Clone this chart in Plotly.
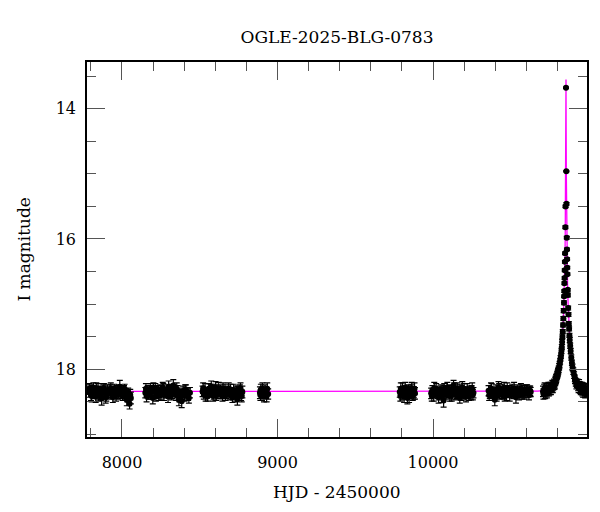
import plotly.graph_objects as go

TITLE = "OGLE-2025-BLG-0783"
X_LABEL = "HJD - 2450000"
Y_LABEL = "I magnitude"

# ---- photometry, one season per list (HJD-2450000, I mag, error) ----
s1_t = [7786, 7794, 7801, 7809, 7816, 7824, 7831, 7839, 7846, 7854, 7861, 7869, 7877, 7884, 7892, 7899, 7907,
        7916, 7924, 7933, 7941, 7950, 7958, 7967, 7976, 7986, 7995, 8004, 8013, 8022, 8031, 8040, 8049, 8057,
        7790, 7805, 7820, 7835, 7850, 7865, 7880, 7895, 7912, 7928, 7945, 7962, 7980, 7999, 8017, 8035, 8053]
s1_m = [18.35, 18.31, 18.39, 18.33, 18.28, 18.37, 18.42, 18.34, 18.30, 18.38, 18.33, 18.45, 18.36, 18.29, 18.34,
        18.40, 18.32, 18.37, 18.31, 18.35, 18.43, 18.30, 18.36, 18.33, 18.39, 18.27, 18.35, 18.41, 18.34, 18.38,
        18.47, 18.36, 18.53, 18.44,
        18.30, 18.41, 18.33, 18.29, 18.40, 18.35, 18.31, 18.43, 18.38, 18.29, 18.36, 18.40, 18.32, 18.37, 18.30,
        18.41, 18.39]
s1_e = [0.08, 0.07, 0.09, 0.08, 0.07, 0.08, 0.09, 0.07, 0.08, 0.09, 0.07, 0.10, 0.08, 0.07, 0.08, 0.09, 0.08,
        0.07, 0.08, 0.09, 0.08, 0.07, 0.09, 0.08, 0.07, 0.10, 0.08, 0.07, 0.09, 0.08, 0.09, 0.07, 0.08, 0.09,
        0.08, 0.09, 0.07, 0.08, 0.09, 0.08, 0.07, 0.09, 0.08, 0.08, 0.07, 0.09, 0.08, 0.08, 0.07, 0.09, 0.08]

s2_t = [8150, 8158, 8166, 8174, 8182, 8190, 8198, 8206, 8214, 8222, 8230, 8238, 8246, 8254, 8262, 8270, 8278, 8287,
        8296, 8305, 8314, 8322, 8330, 8339, 8348, 8357, 8366, 8375, 8384, 8393, 8402, 8411, 8420, 8430, 8437,
        8154, 8170, 8186, 8202, 8218, 8234, 8250, 8266, 8283, 8300, 8318, 8335, 8352, 8370, 8388, 8406, 8425]
s2_m = [18.36, 18.41, 18.32, 18.38, 18.30, 18.35, 18.44, 18.33, 18.29, 18.37, 18.34, 18.40, 18.31, 18.36, 18.28,
        18.39, 18.35, 18.32, 18.42, 18.34, 18.30, 18.37, 18.25, 18.35, 18.40, 18.33, 18.47, 18.38, 18.49, 18.34,
        18.41, 18.31, 18.37, 18.44, 18.36,
        18.30, 18.39, 18.34, 18.29, 18.41, 18.32, 18.38, 18.30, 18.36, 18.27, 18.40, 18.33, 18.30, 18.42, 18.36,
        18.32, 18.39]
s2_e = [0.08, 0.09, 0.07, 0.08, 0.08, 0.07, 0.09, 0.08, 0.07, 0.08, 0.09, 0.08, 0.07, 0.08, 0.08, 0.09, 0.07,
        0.08, 0.09, 0.08, 0.07, 0.08, 0.09, 0.07, 0.08, 0.08, 0.09, 0.07, 0.10, 0.08, 0.08, 0.07, 0.09, 0.08, 0.08,
        0.08, 0.07, 0.09, 0.08, 0.08, 0.07, 0.09, 0.08, 0.08, 0.09, 0.07, 0.08, 0.09, 0.08, 0.07, 0.08, 0.09]

s3_t = [8518, 8526, 8534, 8542, 8550, 8558, 8566, 8574, 8582, 8590, 8598, 8606, 8614, 8622, 8630, 8638, 8646,
        8654, 8662, 8670, 8678, 8686, 8694, 8702, 8710, 8718, 8726, 8734, 8742, 8750, 8758, 8766, 8774,
        8522, 8538, 8554, 8570, 8586, 8602, 8618, 8634, 8650, 8666, 8682, 8698, 8714, 8730, 8746, 8762, 8770]
s3_m = [18.34, 18.39, 18.31, 18.36, 18.42, 18.30, 18.35, 18.27, 18.33, 18.38, 18.32, 18.40, 18.35, 18.29, 18.37,
        18.33, 18.41, 18.36, 18.31, 18.38, 18.34, 18.30, 18.39, 18.35, 18.43, 18.32, 18.37, 18.34, 18.46, 18.36,
        18.31, 18.40, 18.35,
        18.29, 18.40, 18.35, 18.31, 18.41, 18.28, 18.38, 18.32, 18.30, 18.40, 18.36, 18.31, 18.38, 18.42, 18.33,
        18.29, 18.41]
s3_e = [0.08, 0.07, 0.09, 0.08, 0.07, 0.08, 0.08, 0.09, 0.07, 0.08, 0.09, 0.08, 0.07, 0.09, 0.08, 0.07, 0.08,
        0.09, 0.08, 0.07, 0.08, 0.09, 0.08, 0.07, 0.08, 0.09, 0.07, 0.08, 0.09, 0.08, 0.07, 0.08, 0.09,
        0.08, 0.09, 0.07, 0.08, 0.08, 0.09, 0.07, 0.08, 0.09, 0.08, 0.07, 0.08, 0.09, 0.08, 0.07, 0.08, 0.09]

s4_t = [8887, 8893, 8900, 8906, 8913, 8920, 8927, 8934, 8940, 8890, 8903, 8917, 8930]
s4_m = [18.36, 18.31, 18.39, 18.34, 18.42, 18.33, 18.37, 18.30, 18.38, 18.40, 18.30, 18.36, 18.41]
s4_e = [0.09, 0.08, 0.09, 0.08, 0.08, 0.09, 0.08, 0.09, 0.08, 0.08, 0.09, 0.08, 0.09]

s5_t = [9786, 9793, 9800, 9807, 9814, 9821, 9828, 9835, 9842, 9849, 9856, 9863, 9870, 9877, 9884,
        9790, 9804, 9818, 9832, 9846, 9860, 9874, 9881]
s5_m = [18.35, 18.30, 18.39, 18.33, 18.42, 18.28, 18.36, 18.44, 18.32, 18.38, 18.34, 18.29, 18.40, 18.35, 18.37,
        18.41, 18.30, 18.37, 18.33, 18.42, 18.31, 18.38, 18.30]
s5_e = [0.08, 0.09, 0.08, 0.07, 0.09, 0.08, 0.08, 0.09, 0.08, 0.07, 0.08, 0.09, 0.08, 0.08, 0.09,
        0.08, 0.09, 0.08, 0.07, 0.09, 0.08, 0.08, 0.09]

s6_t = [9988, 9996, 10004, 10012, 10020, 10028, 10036, 10044, 10052, 10060, 10068, 10076, 10084, 10092, 10100,
        10108, 10116, 10124, 10132, 10140, 10148, 10156, 10164, 10172, 10180, 10188, 10196, 10204, 10212, 10220,
        10228, 10236, 10244, 10252, 10260,
        9992, 10008, 10024, 10040, 10056, 10072, 10088, 10104, 10120, 10136, 10152, 10168, 10184, 10200, 10216,
        10232, 10248, 10256]
s6_m = [18.37, 18.32, 18.40, 18.35, 18.30, 18.38, 18.43, 18.34, 18.31, 18.36, 18.48, 18.33, 18.39, 18.29, 18.35,
        18.41, 18.32, 18.37, 18.25, 18.34, 18.40, 18.30, 18.36, 18.44, 18.33, 18.28, 18.38, 18.35, 18.42, 18.31,
        18.37, 18.33, 18.39, 18.30, 18.36,
        18.41, 18.29, 18.35, 18.39, 18.42, 18.30, 18.36, 18.31, 18.40, 18.29, 18.37, 18.32, 18.41, 18.30, 18.36,
        18.40, 18.32, 18.39]
s6_e = [0.08, 0.07, 0.09, 0.08, 0.08, 0.07, 0.09, 0.08, 0.07, 0.08, 0.10, 0.08, 0.07, 0.09, 0.08, 0.08, 0.07,
        0.09, 0.08, 0.08, 0.07, 0.09, 0.08, 0.08, 0.07, 0.09, 0.08, 0.07, 0.08, 0.09, 0.08, 0.07, 0.08, 0.09, 0.08,
        0.08, 0.09, 0.07, 0.08, 0.09, 0.08, 0.08, 0.07, 0.09, 0.08, 0.08, 0.09, 0.07, 0.08, 0.09, 0.08, 0.07, 0.08]

s7_t = [10357, 10365, 10373, 10381, 10389, 10397, 10405, 10413, 10421, 10429, 10437, 10445, 10453, 10461, 10469,
        10477, 10485, 10493, 10501, 10509, 10517, 10525, 10533, 10541, 10549, 10557, 10565, 10573, 10581, 10589,
        10597, 10605, 10613, 10621, 10628,
        10361, 10377, 10393, 10409, 10425, 10441, 10457, 10473, 10489, 10505, 10521, 10537, 10553, 10569, 10585,
        10601, 10617, 10625]
s7_m = [18.33, 18.38, 18.30, 18.35, 18.41, 18.47, 18.32, 18.36, 18.28, 18.39, 18.34, 18.31, 18.37, 18.42, 18.33,
        18.29, 18.36, 18.40, 18.34, 18.31, 18.38, 18.35, 18.43, 18.32, 18.37, 18.34, 18.30, 18.39, 18.35, 18.33,
        18.37, 18.32, 18.36, 18.34, 18.35,
        18.40, 18.31, 18.36, 18.41, 18.30, 18.38, 18.29, 18.40, 18.33, 18.37, 18.29, 18.35, 18.40, 18.32, 18.38,
        18.31, 18.39, 18.33]
s7_e = [0.08, 0.07, 0.09, 0.08, 0.07, 0.09, 0.08, 0.08, 0.09, 0.07, 0.08, 0.08, 0.09, 0.07, 0.08, 0.08, 0.07,
        0.09, 0.08, 0.08, 0.07, 0.08, 0.09, 0.08, 0.07, 0.08, 0.08, 0.07, 0.08, 0.08, 0.07, 0.08, 0.07, 0.08, 0.07,
        0.08, 0.09, 0.07, 0.08, 0.08, 0.07, 0.09, 0.08, 0.08, 0.07, 0.09, 0.08, 0.07, 0.08, 0.08, 0.07, 0.08, 0.07]

s8_t = [10707, 10714, 10721, 10728, 10735, 10742, 10749, 10755, 10761, 10767, 10773, 10778, 10783, 10788, 10792,
        10796, 10800, 10804, 10808, 10811, 10814, 10817, 10820, 10823, 10826, 10828, 10830, 10832, 10834, 10836,
        10838, 10840, 10842, 10843, 10844, 10845, 10846, 10847, 10848, 10849, 10851, 10852, 10855, 10857, 10858,
        10860, 10861, 10862, 10863, 10864, 10866, 10867, 10869, 10871, 10873, 10875, 10877, 10879, 10882, 10885,
        10889, 10893, 10897, 10902, 10907, 10912, 10918, 10925, 10932, 10939, 10946, 10953, 10960, 10967, 10974,
        10981, 10988,
        10710, 10718, 10725, 10732, 10739, 10746, 10752, 10758, 10764, 10770, 10776, 10781, 10786, 10790, 10794,
        10798, 10802, 10806, 10913, 10922, 10929, 10936, 10943, 10950, 10957, 10964, 10971, 10978, 10985]
s8_m = [18.34, 18.31, 18.37, 18.30, 18.33, 18.28, 18.32, 18.27, 18.29, 18.24, 18.26, 18.21, 18.23, 18.17, 18.14,
        18.11, 18.08, 18.04, 18.00, 17.96, 17.93, 17.88, 17.83, 17.79, 17.72, 17.66, 17.58, 17.50, 17.42, 17.32,
        17.22, 17.10, 16.98, 16.88, 16.80, 16.68, 16.60, 16.48, 16.35, 16.22, 15.82, 15.50, 13.68, 14.96, 15.46,
        15.98, 16.16, 16.31, 16.44, 16.54, 16.78, 16.86, 17.06, 17.16, 17.30, 17.38, 17.48, 17.55, 17.64, 17.72,
        17.82, 17.90, 17.97, 18.03, 18.09, 18.14, 18.20, 18.22, 18.27, 18.23, 18.30, 18.27, 18.33, 18.29, 18.35,
        18.31, 18.34,
        18.38, 18.29, 18.33, 18.36, 18.30, 18.34, 18.29, 18.32, 18.27, 18.29, 18.23, 18.25, 18.19, 18.16, 18.13,
        18.09, 18.06, 18.02, 18.17, 18.24, 18.21, 18.29, 18.26, 18.32, 18.28, 18.35, 18.30, 18.36, 18.32]
s8_e = [0.08, 0.08, 0.08, 0.08, 0.08, 0.08, 0.07, 0.07, 0.07, 0.07, 0.07, 0.06, 0.06, 0.06, 0.06,
        0.05, 0.05, 0.05, 0.05, 0.05, 0.05, 0.04, 0.04, 0.04, 0.04, 0.04, 0.04, 0.03, 0.03, 0.03,
        0.03, 0.03, 0.03, 0.02, 0.02, 0.02, 0.02, 0.02, 0.02, 0.02, 0.02, 0.02, 0.01, 0.01, 0.02,
        0.02, 0.02, 0.02, 0.02, 0.02, 0.02, 0.03, 0.03, 0.03, 0.03, 0.03, 0.03, 0.04, 0.04, 0.04,
        0.04, 0.04, 0.05, 0.05, 0.05, 0.05, 0.06, 0.06, 0.06, 0.07, 0.07, 0.07, 0.08, 0.08, 0.08,
        0.08, 0.08,
        0.08, 0.08, 0.08, 0.08, 0.08, 0.07, 0.07, 0.07, 0.07, 0.07, 0.06, 0.06, 0.06, 0.06, 0.05,
        0.05, 0.05, 0.05, 0.05, 0.06, 0.06, 0.07, 0.07, 0.07, 0.08, 0.08, 0.08, 0.08, 0.08]

# ---- model curve ----
model_t = [7700, 10600, 10675, 10725, 10755, 10775, 10790, 10805, 10815, 10825, 10830, 10835, 10839, 10842,
           10845, 10847, 10849, 10850, 10851, 10852, 10853, 10854, 10855, 10856, 10857, 10858, 10859, 10860,
           10861, 10863, 10865, 10868, 10871, 10875, 10880, 10885, 10895, 10905, 10920, 10935, 10955, 10985, 11050]
model_m = [18.34, 18.34, 18.335, 18.32, 18.29, 18.25, 18.19, 18.08, 17.95, 17.74, 17.59, 17.38, 17.17, 16.96,
           16.69, 16.45, 16.15, 15.96, 15.72, 15.42, 15.00, 14.36, 13.55, 14.36, 15.00, 15.42, 15.72, 15.96,
           16.15, 16.45, 16.69, 16.96, 17.17, 17.38, 17.59, 17.74, 17.95, 18.08, 18.19, 18.25, 18.29, 18.32, 18.335]

X_RANGE = [7775, 10990]
Y_RANGE = [19.04, 13.283]

FONT = "DejaVu Serif"

seasons = [(s1_t, s1_m, s1_e), (s2_t, s2_m, s2_e), (s3_t, s3_m, s3_e), (s4_t, s4_m, s4_e),
           (s5_t, s5_m, s5_e), (s6_t, s6_m, s6_e), (s7_t, s7_m, s7_e), (s8_t, s8_m, s8_e)]

fig = go.Figure()
fig.add_trace(go.Scatter(x=model_t, y=model_m, mode="lines",
                         line=dict(color="#ff00ff", width=1.3), hoverinfo="skip"))
for t, m, e in seasons:
    fig.add_trace(go.Scatter(
        x=t, y=m, mode="markers",
        marker=dict(color="black", size=6, line=dict(width=0)),
        error_y=dict(type="data", array=e, visible=True, color="black", thickness=1.2, width=3),
    ))

axis_common = dict(
    showgrid=False, zeroline=False, showline=True, linecolor="black", linewidth=1.5,
    mirror="allticks", ticks="inside", ticklen=18, tickwidth=1, tickcolor="#555555",
    tickfont=dict(family=FONT, size=16, color="black"), tickformat="d",
)
fig.update_xaxes(range=X_RANGE, tick0=0, dtick=1000, ticklabelstandoff=10,
                 minor=dict(ticks="inside", ticklen=9, dtick=200, tick0=0, tickcolor="#555555", tickwidth=1),
                 **axis_common)
fig.update_yaxes(range=Y_RANGE, tick0=0, dtick=2, ticklabelstandoff=6,
                 minor=dict(ticks="inside", ticklen=9, dtick=0.5, tick0=0, tickcolor="#555555", tickwidth=1),
                 **axis_common)

# the page body adds an 8 px offset, so margins are reduced on the top/left accordingly
fig.update_layout(
    width=600, height=512,
    margin=dict(l=79, r=21, t=54, b=83, autoexpand=False),
    paper_bgcolor="white", plot_bgcolor="white",
    showlegend=False,
    title=dict(text=TITLE, x=0.5, xref="paper", xanchor="center",
               y=1 - 29 / 512, yref="container", yanchor="middle",
               font=dict(family=FONT, size=17, color="black")),
    annotations=[
        dict(text=X_LABEL, x=0.5, xref="paper", y=-0.147, yref="paper", xanchor="center", yanchor="middle",
             showarrow=False, font=dict(family=FONT, size=17, color="black")),
        dict(text=Y_LABEL, x=-0.128, xref="paper", y=0.5, yref="paper", xanchor="center", yanchor="middle",
             textangle=-90, showarrow=False, font=dict(family=FONT, size=17, color="black")),
    ],
)

fig.write_html("out.html")
